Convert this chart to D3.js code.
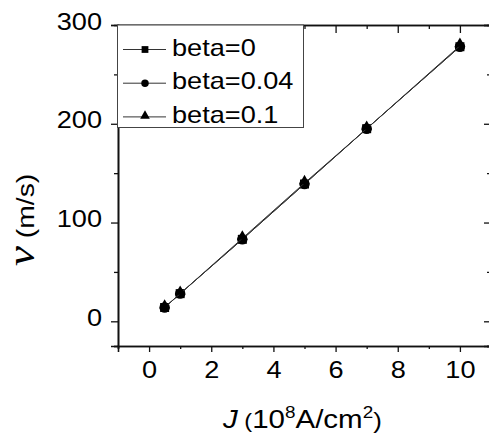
<!DOCTYPE html>
<html>
<head>
<meta charset="utf-8">
<script src="https://cdn.jsdelivr.net/npm/d3@7"></script>
<style>
  body { margin: 0; background: #fff; }
  text { font-family: "Liberation Sans", Arial, sans-serif; }
</style>
</head>
<body>
<div class="chart"></div>
<script>
// data
const currents = [0.5, 1, 3, 5, 7, 10];          // J (10^8 A/cm^2)
const seriesNames = ["beta=0", "beta=0.04", "beta=0.1"];
const beta0 = [14, 28, 83, 139, 195, 278];
const beta004 = [14, 28, 83, 139, 195, 278];
const beta01 = [14, 28, 84, 140, 195, 279];
const xMajor = [0, 2, 4, 6, 8, 10];
const xMinor = [-1, 1, 3, 5, 7, 9, 11];
const yMajor = [0, 100, 200, 300];
const yMinor = [-25, 50, 150, 250];

const width = 489, height = 436;
const stretch = 1.18; // the source text is wider than Arial

const svg = d3.select(".chart").append("svg")
    .attr("width", width)
    .attr("height", height);

const x = d3.scaleLinear().domain([-1, 11]).range([118, 491]);
const y = d3.scaleLinear().domain([-25, 300]).range([346, 25]);

// axes - left/bottom ticks out, top/right ticks in (origin style)
function styleAxis(g) {
    g.select(".domain").attr("stroke", "#111").attr("stroke-width", 1.6);
    g.selectAll(".tick line").attr("stroke", "#111").attr("stroke-width", 1.3);
}

svg.append("g")
    .attr("transform", `translate(0,${y.range()[0]})`)
    .call(d3.axisBottom(x).tickValues(xMinor).tickSize(3).tickFormat(""))
    .call(styleAxis);
const xAxis = svg.append("g")
    .attr("transform", `translate(0,${y.range()[0]})`)
    .call(d3.axisBottom(x).tickValues(xMajor).tickSize(6).tickPadding(10))
    .call(styleAxis);
xAxis.selectAll("text")
    .attr("font-size", 23)
    .attr("fill", "#000")
    .attr("transform", `scale(${stretch},1)`);

svg.append("g")
    .attr("transform", `translate(0,${y.range()[1]})`)
    .call(d3.axisTop(x).tickValues(xMinor).tickSize(-4).tickFormat(""))
    .call(styleAxis);
svg.append("g")
    .attr("transform", `translate(0,${y.range()[1]})`)
    .call(d3.axisTop(x).tickValues(xMajor).tickSize(-8).tickFormat(""))
    .call(styleAxis);

svg.append("g")
    .attr("transform", `translate(${x.range()[0]},0)`)
    .call(d3.axisLeft(y).tickValues(yMinor).tickSize(4).tickFormat(""))
    .call(styleAxis);
const yAxis = svg.append("g")
    .attr("transform", `translate(${x.range()[0]},0)`)
    .call(d3.axisLeft(y).tickValues(yMajor).tickSize(7))
    .call(styleAxis);
yAxis.selectAll("text")
    .attr("font-size", 23)
    .attr("fill", "#000")
    .attr("x", -16 / stretch)
    .attr("dy", "0.18em")
    .attr("transform", `scale(${stretch},1)`);

svg.append("g")
    .attr("transform", `translate(${x.range()[1]},0)`)
    .call(d3.axisRight(y).tickValues(yMinor).tickSize(-4).tickFormat(""))
    .call(styleAxis);
svg.append("g")
    .attr("transform", `translate(${x.range()[1]},0)`)
    .call(d3.axisRight(y).tickValues(yMajor).tickSize(-7).tickFormat(""))
    .call(styleAxis);

// series
const symbols = [d3.symbolSquare, d3.symbolCircle, d3.symbolTriangle];
const plotSizes = [81, 85, 50];
const legendSizes = [46, 44, 40];
const allSeries = [beta0, beta004, beta01].map((vals, i) =>
    ({ name: seriesNames[i], symbol: symbols[i], values: vals.map((v, j) => [currents[j], v]) }));

const line = d3.line().x(d => x(d[0])).y(d => y(d[1]));

allSeries.forEach((s, i) => {
    svg.append("path")
        .datum(s.values)
        .attr("d", line)
        .attr("fill", "none")
        .attr("stroke", "#333")
        .attr("stroke-width", 1);
    svg.selectAll(".pt" + i)
        .data(s.values)
        .enter()
        .append("path")
        .attr("class", "pt" + i)
        .attr("transform", d => `translate(${x(d[0])},${y(d[1]) + (i == 2 ? -2 : 0)})`)
        .attr("d", d3.symbol().type(s.symbol).size(plotSizes[i]))
        .attr("fill", "#000");
});

// legend
const legend = svg.append("g");
legend.append("rect")
    .attr("x", 117.5).attr("y", 25)
    .attr("width", 186).attr("height", 102.5)
    .attr("fill", "#fff")
    .attr("stroke", "#444")
    .attr("stroke-width", 1);

allSeries.forEach((s, i) => {
    const ly = 49.5 + i * 33.7;
    legend.append("line")
        .attr("x1", 123).attr("x2", 166)
        .attr("y1", ly).attr("y2", ly)
        .attr("stroke", "#333").attr("stroke-width", 1);
    legend.append("path")
        .attr("transform", `translate(145,${ly + (i == 2 ? -1 : 0)})`)
        .attr("d", d3.symbol().type(s.symbol).size(legendSizes[i]))
        .attr("fill", "#000");
    legend.append("text")
        .attr("transform", `translate(172,${ly + 6}) scale(${stretch},1)`)
        .attr("font-size", 23)
        .text(s.name);
});

// axis titles
const xTitle = svg.append("text")
    .attr("transform", `translate(223,428) scale(${stretch},1)`)
    .attr("font-size", 25);
xTitle.append("tspan").attr("font-style", "italic").attr("font-size", 25).text("J");
xTitle.append("tspan").attr("font-size", 20).text(" (");
xTitle.append("tspan").text("10");
xTitle.append("tspan").attr("font-size", 16).attr("dy", -10).text("8");
xTitle.append("tspan").attr("dy", 10).text("A/cm");
xTitle.append("tspan").attr("font-size", 16).attr("dy", -10).text("2");
xTitle.append("tspan").attr("font-size", 22).attr("dy", 10).text(")");

const yTitle = svg.append("text")
    .attr("transform", `translate(34,266) rotate(-90) scale(${stretch},1)`)
    .attr("font-size", 24);
yTitle.append("tspan")
    .attr("font-family", "'Liberation Serif', 'DejaVu Serif', serif")
    .attr("font-style", "italic")
    .attr("font-size", 38)
    .text("ν");
yTitle.append("tspan").text(" (m/s)");
</script>
</body>
</html>
